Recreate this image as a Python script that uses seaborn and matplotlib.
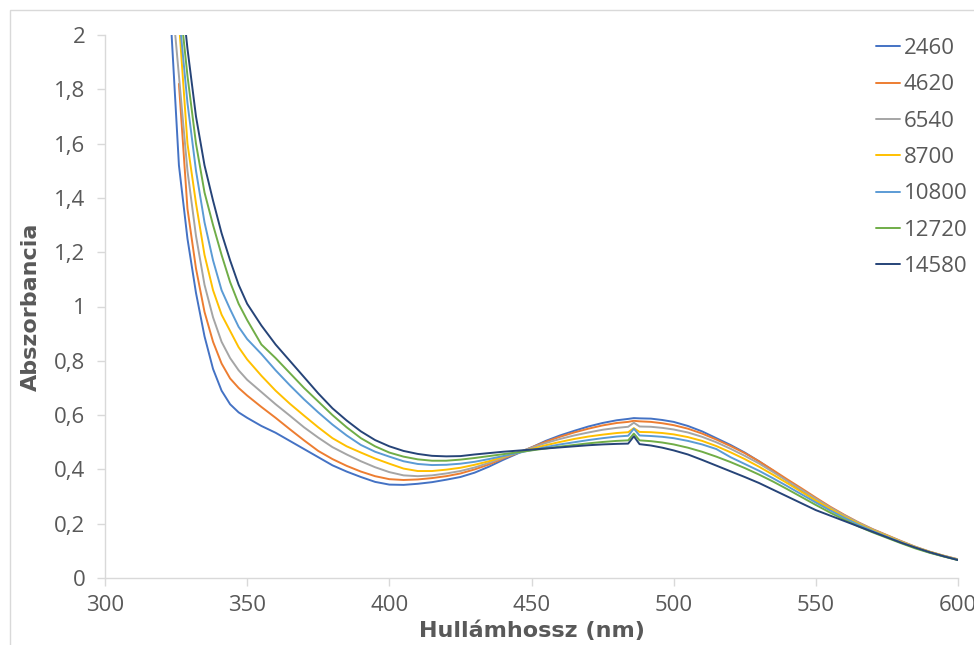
import numpy as np
import pandas as pd
import matplotlib
matplotlib.use("Agg")
import matplotlib.pyplot as plt
from matplotlib.patches import Rectangle
import seaborn as sns

# Hullámhossz (nm)
hullamhossz = [320, 323, 326, 329, 332, 335, 338, 341, 344, 347, 350, 355, 360, 365, 370, 375,
               380, 385, 390, 395, 400, 405, 410, 415, 420, 425, 430, 435, 440, 445, 450, 455,
               460, 465, 470, 475, 480, 484, 486, 488, 492, 496, 500, 505, 510, 515, 520, 525,
               530, 535, 540, 545, 550, 555, 560, 565, 570, 575, 580, 585, 590, 595, 600]

a_2460 = [2.6, 2.08, 1.52, 1.25, 1.05, 0.89, 0.77, 0.69, 0.64, 0.61, 0.59, 0.56, 0.535, 0.505, 0.475, 0.445,
          0.415, 0.392, 0.372, 0.354, 0.344, 0.343, 0.347, 0.353, 0.362, 0.372, 0.388, 0.41, 0.435, 0.458, 0.481, 0.505,
          0.525, 0.542, 0.558, 0.571, 0.581, 0.586, 0.589, 0.588, 0.587, 0.582, 0.575, 0.56, 0.54, 0.515, 0.49, 0.462,
          0.43, 0.395, 0.358, 0.32, 0.285, 0.255, 0.228, 0.202, 0.178, 0.156, 0.134, 0.113, 0.096, 0.081, 0.068]

a_4620 = [np.nan, np.nan, 1.82, 1.36, 1.14, 0.98, 0.87, 0.79, 0.735, 0.70, 0.672, 0.63, 0.59, 0.548, 0.507, 0.468,
          0.438, 0.413, 0.392, 0.375, 0.364, 0.361, 0.363, 0.368, 0.375, 0.385, 0.4, 0.418, 0.44, 0.46, 0.481, 0.502,
          0.52, 0.536, 0.55, 0.562, 0.571, 0.575, 0.579, 0.577, 0.575, 0.57, 0.563, 0.55, 0.532, 0.51, 0.486, 0.46,
          0.43, 0.397, 0.363, 0.33, 0.296, 0.263, 0.233, 0.205, 0.18, 0.158, 0.136, 0.115, 0.097, 0.082, 0.069]

a_6540 = [2.5, 2.2, 1.85, 1.5, 1.26, 1.08, 0.96, 0.87, 0.81, 0.765, 0.73, 0.685, 0.64, 0.598, 0.555, 0.517,
          0.482, 0.455, 0.43, 0.408, 0.39, 0.378, 0.375, 0.378, 0.385, 0.394, 0.407, 0.424, 0.443, 0.462, 0.48, 0.497,
          0.512, 0.525, 0.536, 0.546, 0.553, 0.557, 0.572, 0.558, 0.557, 0.553, 0.547, 0.536, 0.52, 0.5, 0.476, 0.45,
          0.422, 0.39, 0.357, 0.325, 0.292, 0.26, 0.231, 0.204, 0.179, 0.157, 0.135, 0.115, 0.097, 0.082, 0.068]

a_8700 = [2.7, 2.35, 2.05, 1.6, 1.38, 1.19, 1.06, 0.97, 0.91, 0.85, 0.805, 0.745, 0.69, 0.642, 0.598, 0.555,
          0.515, 0.485, 0.462, 0.44, 0.421, 0.403, 0.394, 0.394, 0.399, 0.406, 0.417, 0.43, 0.446, 0.461, 0.475, 0.489,
          0.501, 0.512, 0.521, 0.528, 0.534, 0.537, 0.552, 0.538, 0.537, 0.534, 0.529, 0.519, 0.505, 0.486, 0.463, 0.438,
          0.41, 0.38, 0.349, 0.317, 0.285, 0.255, 0.226, 0.2, 0.176, 0.155, 0.133, 0.113, 0.096, 0.081, 0.067]

a_10800 = [2.8, 2.45, 2.08, 1.75, 1.5, 1.31, 1.17, 1.06, 0.99, 0.925, 0.88, 0.825, 0.765, 0.71, 0.658, 0.61,
           0.565, 0.525, 0.49, 0.465, 0.447, 0.43, 0.42, 0.416, 0.417, 0.421, 0.428, 0.438, 0.449, 0.46, 0.471, 0.482,
           0.492, 0.5, 0.508, 0.515, 0.521, 0.524, 0.55, 0.525, 0.523, 0.52, 0.515, 0.505, 0.492, 0.475, 0.445, 0.42,
           0.395, 0.367, 0.338, 0.308, 0.278, 0.249, 0.222, 0.196, 0.173, 0.152, 0.131, 0.111, 0.094, 0.08, 0.067]

a_12720 = [2.9, 2.55, 2.15, 1.85, 1.6, 1.42, 1.3, 1.19, 1.09, 1.01, 0.95, 0.86, 0.81, 0.755, 0.70, 0.65,
           0.6, 0.555, 0.515, 0.485, 0.462, 0.447, 0.437, 0.432, 0.432, 0.436, 0.442, 0.449, 0.456, 0.463, 0.47, 0.477,
           0.484, 0.49, 0.496, 0.501, 0.505, 0.507, 0.532, 0.507, 0.504, 0.499, 0.492, 0.48, 0.465, 0.447, 0.427, 0.405,
           0.381, 0.355, 0.327, 0.298, 0.269, 0.241, 0.215, 0.19, 0.168, 0.148, 0.128, 0.109, 0.093, 0.079, 0.066]

a_14580 = [3.0, 2.6, 2.25, 1.95, 1.7, 1.52, 1.39, 1.27, 1.17, 1.08, 1.01, 0.93, 0.86, 0.8, 0.74, 0.68,
           0.625, 0.58, 0.54, 0.508, 0.485, 0.468, 0.457, 0.45, 0.448, 0.449, 0.455, 0.46, 0.465, 0.469, 0.473, 0.477,
           0.481, 0.485, 0.489, 0.492, 0.494, 0.495, 0.522, 0.493, 0.488, 0.48, 0.47, 0.455, 0.435, 0.414, 0.393, 0.372,
           0.35, 0.325, 0.3, 0.275, 0.25, 0.23, 0.21, 0.19, 0.17, 0.15, 0.13, 0.112, 0.095, 0.08, 0.066]

sorozatok = ["2460", "4620", "6540", "8700", "10800", "12720", "14580"]
ertekek = [a_2460, a_4620, a_6540, a_8700, a_10800, a_12720, a_14580]
szinek = ["#4472C4", "#ED7D31", "#A5A5A5", "#FFC000", "#5B9BD5", "#70AD47", "#264478"]

x_ticks = [300, 350, 400, 450, 500, 550, 600]
y_ticks = [0, 0.2, 0.4, 0.6, 0.8, 1.0, 1.2, 1.4, 1.6, 1.8, 2.0]
y_tick_labels = ["0", "0,2", "0,4", "0,6", "0,8", "1", "1,2", "1,4", "1,6", "1,8", "2"]

# long-form tabla a seabornnak
df = pd.concat([pd.DataFrame({"Hullámhossz": hullamhossz, "Abszorbancia": v, "minta": s})
                for s, v in zip(sorozatok, ertekek)], ignore_index=True)

sns.set_style("white")
plt.rcParams["font.family"] = ["Open Sans", "DejaVu Sans"]

fig = plt.figure(figsize=(9.74, 6.45), dpi=100)
ax = fig.add_axes([105 / 974, 67 / 645, 853 / 974, 543 / 645])

sns.lineplot(data=df, x="Hullámhossz", y="Abszorbancia", hue="minta", hue_order=sorozatok,
             palette=szinek, linewidth=1.4, ax=ax, legend=True)

ax.set_xlim(300, 600)
ax.set_ylim(0, 2)
ax.set_xticks(x_ticks)
ax.set_yticks(y_ticks)
ax.set_yticklabels(y_tick_labels)

for s in ["top", "right"]:
    ax.spines[s].set_visible(False)
for s in ["left", "bottom"]:
    ax.spines[s].set_color("#D9D9D9")
    ax.spines[s].set_linewidth(1.0)
ax.tick_params(axis="both", which="major", length=6, width=1.0, color="#D9D9D9",
               labelcolor="#595959", labelsize=16, direction="out", left=True, bottom=True)
ax.tick_params(axis="x", pad=6)
ax.tick_params(axis="y", pad=8)

titlefont = dict(family=["DejaVu Sans"], weight="bold", size=16, color="#595959")
ax.set_xlabel("Hullámhossz (nm)", **titlefont)
ax.set_ylabel("Abszorbancia", **titlefont)
ax.xaxis.set_label_coords(0.5, -0.078)
ax.yaxis.set_label_coords(-0.075, 0.5)

leg = ax.legend(loc="upper left", bbox_to_anchor=(876 / 974, 607 / 645), bbox_transform=fig.transFigure,
                frameon=False, fontsize=16, handlelength=1.1, handletextpad=0.15, labelspacing=0.69,
                borderpad=0, borderaxespad=0)
for t in leg.get_texts():
    t.set_color("#595959")

fig.patches.append(Rectangle((10 / 974, -0.02), 1.0, (635 / 645) + 0.02, transform=fig.transFigure,
                             fill=False, edgecolor="#D9D9D9", linewidth=1.0))

fig.savefig("out.png", dpi=100)
